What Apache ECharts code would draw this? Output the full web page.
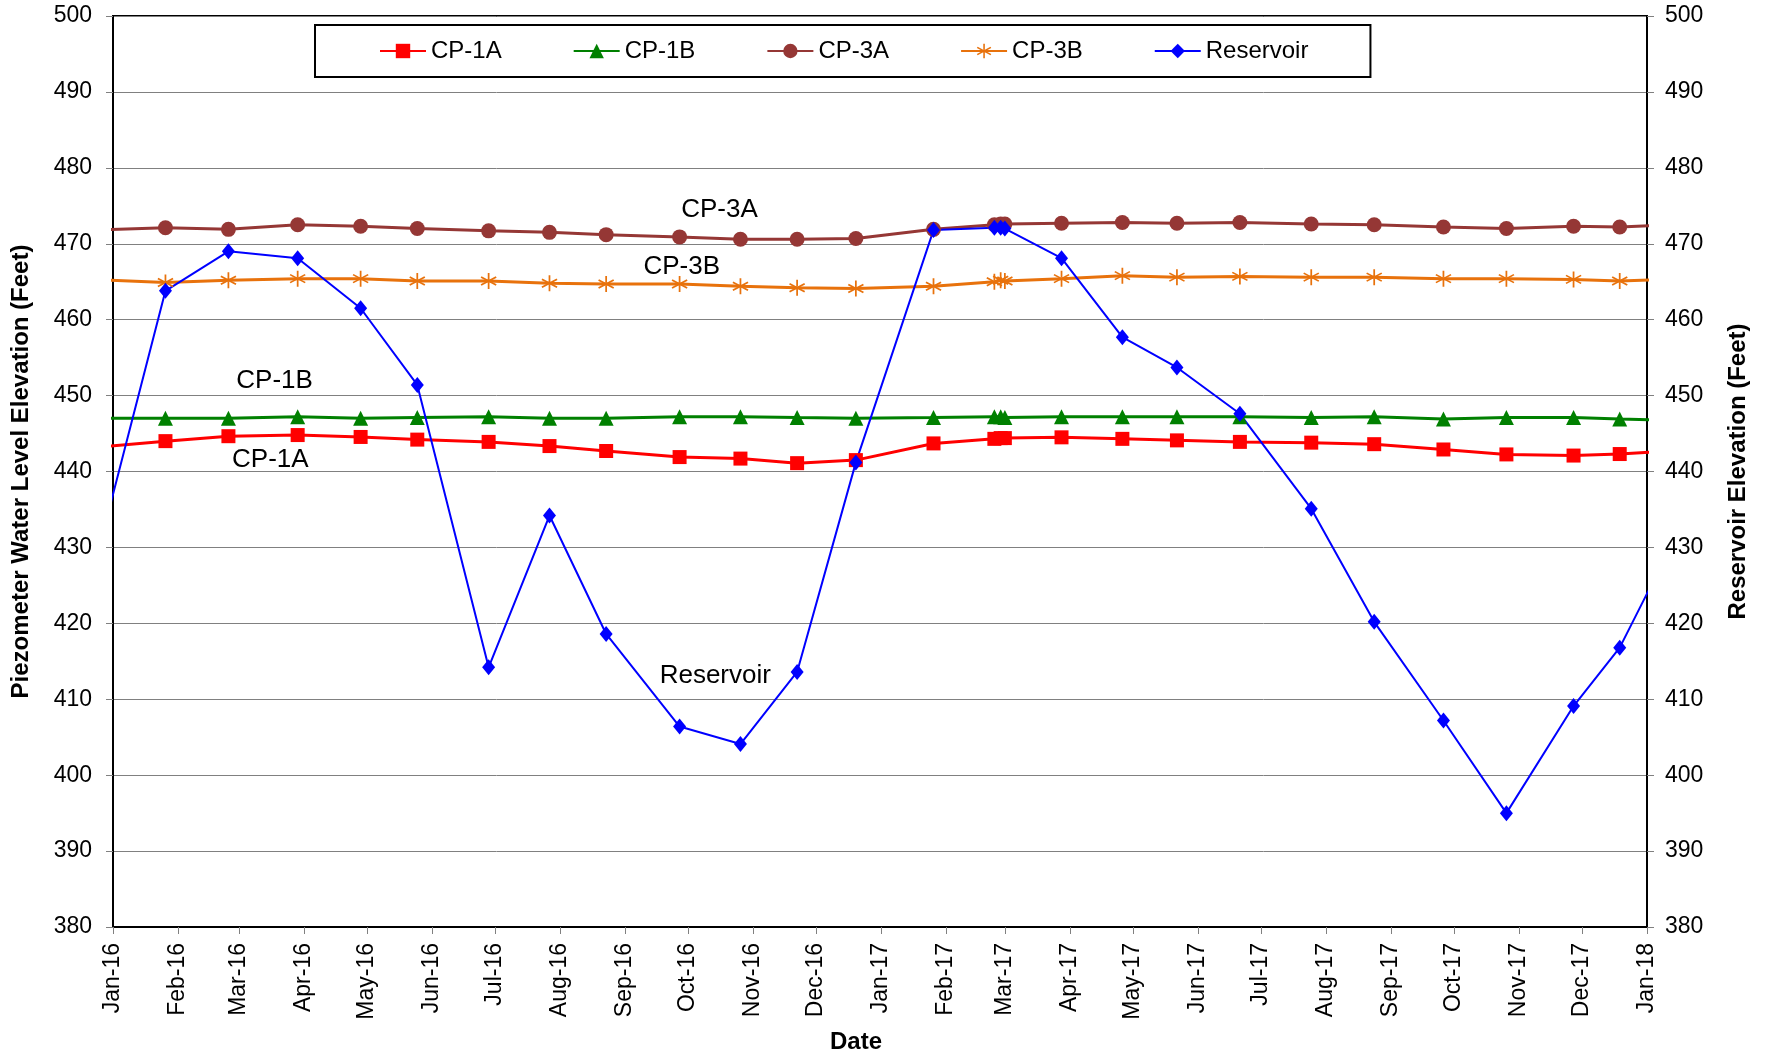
<!DOCTYPE html>
<html>
<head>
<meta charset="utf-8">
<script src="https://cdn.jsdelivr.net/npm/echarts@6/dist/echarts.min.js"></script>
<style>
  html, body { margin: 0; padding: 0; background: #fff; }
  #chart { width: 1768px; height: 1053px; }
</style>
</head>
<body>
<div id="chart"></div>
<script>
// reading dates (first and last fall outside the plotted window, lines run to the edges)
const dates = [
  '2015-12-20', '2016-01-26', '2016-02-25', '2016-03-29', '2016-04-28', '2016-05-25',
  '2016-06-28', '2016-07-27', '2016-08-23', '2016-09-27', '2016-10-26', '2016-11-22',
  '2016-12-20', '2017-01-26', '2017-02-24', '2017-02-27', '2017-03-01', '2017-03-28',
  '2017-04-26', '2017-05-22', '2017-06-21', '2017-07-25', '2017-08-24', '2017-09-26',
  '2017-10-26', '2017-11-27', '2017-12-19', '2018-01-22'
];

const cp1a = [443.1, 444.0, 444.65, 444.8, 444.55, 444.2, 443.9, 443.35, 442.7, 441.9, 441.7, 441.1,
  441.5, 443.7, 444.3, 444.4, 444.4, 444.5, 444.3, 444.1, 443.9, 443.8, 443.6, 442.9,
  442.25, 442.1, 442.3, 442.85];
const cp1b = [447.0, 447.0, 447.0, 447.2, 447.0, 447.1, 447.2, 447.0, 447.0, 447.2, 447.2, 447.1,
  447.0, 447.1, 447.2, 447.2, 447.1, 447.2, 447.2, 447.2, 447.2, 447.1, 447.2, 446.9,
  447.1, 447.1, 446.9, 446.7];
const cp3a = [471.8, 472.1, 471.9, 472.5, 472.3, 472.0, 471.7, 471.5, 471.2, 470.9, 470.6, 470.6,
  470.7, 471.9, 472.5, 472.6, 472.6, 472.7, 472.8, 472.7, 472.8, 472.6, 472.5, 472.2,
  472.0, 472.3, 472.2, 472.6];
const cp3b = [465.3, 464.9, 465.2, 465.4, 465.4, 465.1, 465.1, 464.8, 464.7, 464.7, 464.4, 464.2,
  464.1, 464.4, 465.0, 465.2, 465.1, 465.4, 465.8, 465.6, 465.7, 465.6, 465.6, 465.4,
  465.4, 465.3, 465.1, 465.4];
const reservoir = [424.1, 463.8, 469.0, 468.1, 461.5, 451.4, 414.2, 434.2, 418.6, 406.4, 404.1, 413.6,
  441.2, 471.8, 472.1, 472.1, 472.0, 468.1, 457.7, 453.7, 447.6, 435.1, 420.2, 407.2,
  395.0, 409.1, 416.8, 435.4];

// in-plot text labels: [text, date, elevation]
const annotations = [
  ['CP-1A', '2016-03-16', 441.6],
  ['CP-1B', '2016-03-18', 452.0],
  ['CP-3A', '2016-10-16', 474.45],
  ['CP-3B', '2016-09-28', 467.0],
  ['Reservoir', '2016-10-14', 413.1]
];

const monthNames = ['Jan', 'Feb', 'Mar', 'Apr', 'May', 'Jun', 'Jul', 'Aug', 'Sep', 'Oct', 'Nov', 'Dec'];
const FONT = 'Liberation Sans, Arial, sans-serif';
const DAY = 86400000;

// asterisk marker (vertical bar + two diagonals)
const STAR = 'path://M45 0L55 0L55 100L45 100Z M4.2 29.3L90.8 79.3L95.8 70.7L9.2 20.7Z M9.2 79.3L95.8 29.3L90.8 20.7L4.2 70.7Z';

const pairs = vals => dates.map((d, i) => [d, vals[i]]);

const note = name => {
  const a = annotations.find(x => x[0] === name);
  return {
    silent: true,
    symbol: 'circle',
    symbolSize: 0,
    label: { show: true, position: 'inside', formatter: a[0], color: '#000', fontSize: 26, fontFamily: FONT },
    data: [{ name: a[0], coord: [a[1], a[2]] }]
  };
};

const chart = echarts.init(document.getElementById('chart'));

chart.setOption({
  backgroundColor: '#fff',
  animation: false,
  textStyle: { fontFamily: FONT },
  grid: {
    left: 113, right: 121, top: 16, bottom: 126,
    outerBoundsMode: 'none',
    containLabel: false,
    show: true, borderColor: '#000', borderWidth: 2
  },
  legend: {
    data: ['CP-1A', 'CP-1B', 'CP-3A', 'CP-3B', 'Reservoir'],
    left: 315, top: 25,
    padding: [14, 62, 14, 64],
    itemGap: 71,
    itemWidth: 46, itemHeight: 18,
    borderColor: '#000', borderWidth: 2,
    backgroundColor: '#fff',
    textStyle: { fontSize: 24, color: '#000', fontFamily: FONT }
  },
  xAxis: {
    type: 'time',
    min: +new Date(2016, 0, 1),
    max: +new Date(2018, 0, 1),
    splitNumber: 24,
    minInterval: 28 * DAY,
    maxInterval: 31 * DAY,
    name: 'Date',
    nameLocation: 'middle',
    nameGap: 103,
    nameTextStyle: { fontSize: 24, fontWeight: 'bold', color: '#000', padding: [0, 48, 0, 0] },
    axisLine: { lineStyle: { color: '#000', width: 2 } },
    axisTick: { show: true, length: 7, lineStyle: { color: '#808080' } },
    splitLine: { show: false },
    axisLabel: {
      rotate: 90,
      margin: 16,
      fontSize: 23,
      color: '#000',
      showMinLabel: true,
      showMaxLabel: true,
      hideOverlap: false,
      formatter: function (val) {
        const d = new Date(val);
        return monthNames[d.getMonth()] + '-' + String(d.getFullYear()).slice(2);
      }
    }
  },
  yAxis: [
    {
      type: 'value',
      min: 380, max: 500, interval: 10,
      position: 'left',
      name: 'Piezometer Water Level Elevation (Feet)',
      nameLocation: 'middle',
      nameRotate: 90,
      nameGap: 80,
      nameTextStyle: { fontSize: 24, fontWeight: 'bold', color: '#000' },
      axisLine: { show: true, lineStyle: { color: '#000', width: 2 } },
      axisTick: { show: true, length: 7, lineStyle: { color: '#808080' } },
      axisLabel: { fontSize: 23, color: '#000', margin: 21 },
      splitLine: { show: true, lineStyle: { color: '#808080', width: 1 } }
    },
    {
      type: 'value',
      min: 380, max: 500, interval: 10,
      position: 'right',
      name: 'Reservoir Elevation (Feet)',
      nameLocation: 'middle',
      nameRotate: 90,
      nameGap: 79,
      nameTextStyle: { fontSize: 24, fontWeight: 'bold', color: '#000' },
      axisLine: { show: true, lineStyle: { color: '#000', width: 2 } },
      axisTick: { show: true, length: 7, lineStyle: { color: '#808080' } },
      axisLabel: { fontSize: 23, color: '#000', margin: 18 },
      splitLine: { show: false }
    }
  ],
  series: [
    {
      name: 'CP-1A', type: 'line', data: pairs(cp1a),
      symbol: 'rect', symbolSize: 14, showAllSymbol: true,
      itemStyle: { color: '#FF0000' },
      lineStyle: { color: '#FF0000', width: 3 },
      markPoint: note('CP-1A')
    },
    {
      name: 'CP-1B', type: 'line', data: pairs(cp1b),
      symbol: 'triangle', symbolSize: 15, showAllSymbol: true,
      itemStyle: { color: '#008000' },
      lineStyle: { color: '#008000', width: 3 },
      markPoint: note('CP-1B')
    },
    {
      name: 'CP-3A', type: 'line', data: pairs(cp3a),
      symbol: 'circle', symbolSize: 15, showAllSymbol: true,
      itemStyle: { color: '#953735' },
      lineStyle: { color: '#953735', width: 3 },
      markPoint: note('CP-3A')
    },
    {
      name: 'CP-3B', type: 'line', data: pairs(cp3b),
      symbol: STAR, symbolSize: 16, showAllSymbol: true,
      itemStyle: { color: '#E8720C' },
      lineStyle: { color: '#E8720C', width: 3 },
      markPoint: note('CP-3B')
    },
    {
      name: 'Reservoir', type: 'line', yAxisIndex: 1, data: pairs(reservoir),
      symbol: 'diamond', symbolSize: [13, 16], showAllSymbol: true,
      itemStyle: { color: '#0000FF' },
      lineStyle: { color: '#0000FF', width: 2 },
      markPoint: note('Reservoir')
    }
  ]
});
</script>
</body>
</html>
